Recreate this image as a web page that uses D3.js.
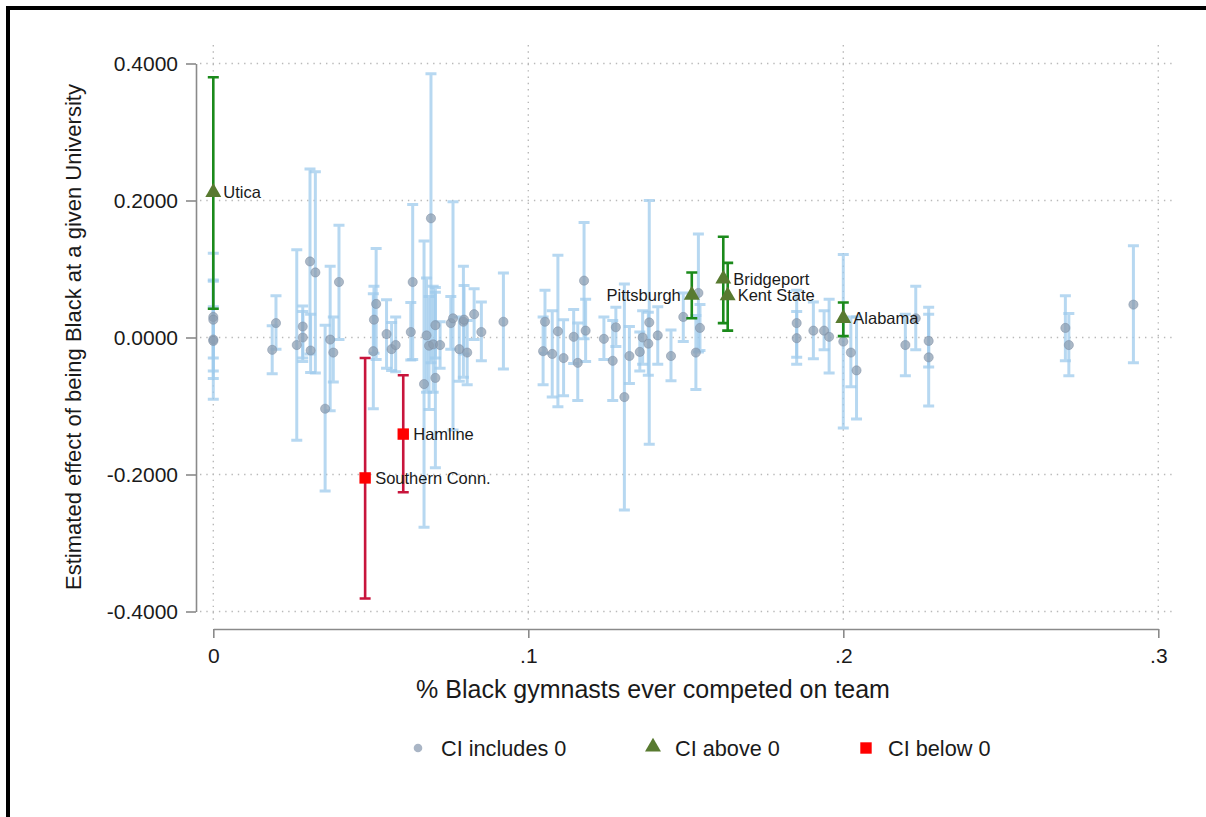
<!DOCTYPE html>
<html>
<head>
<meta charset="utf-8">
<script src="https://cdn.jsdelivr.net/npm/d3@7"></script>
<style>
  html, body { margin: 0; padding: 0; background: #fff; }
  svg { display: block; font-family: "Liberation Sans", Arial, sans-serif; }
</style>
</head>
<body>
<svg id="chart" width="1206" height="817"></svg>
<script>
// Share of Black gymnasts on the team (x) and estimated effect with 95% CI
const share = [0, 0, 0, 0, 0,
  0.0187, 0.0199, 0.0265, 0.0284, 0.0284, 0.0307, 0.0324, 0.0309, 0.0355, 0.0371, 0.0381, 0.0399,
  0.0482, 0.0603,
  0.0508, 0.0517, 0.0510, 0.0550, 0.0566, 0.0579, 0.0627, 0.0633, 0.0669, 0.0677, 0.0685, 0.0691,
  0.0698, 0.0705, 0.0705, 0.0720, 0.0754, 0.0761, 0.0781, 0.0794, 0.0796, 0.0806, 0.0828, 0.0851, 0.0921,
  0.1047, 0.1053, 0.1076, 0.1094, 0.1112, 0.1144, 0.1157, 0.1177, 0.1182, 0.1240, 0.1268, 0.1278,
  0.1305, 0.1321, 0.1354, 0.1363, 0.1381, 0.1384, 0.1411, 0.1453, 0.1492, 0.1519, 0.1540, 0.1532,
  0.1545, 0.1619, 0.1633,
  0.1852, 0.1852, 0.1905, 0.1939, 0.1955, 0.2000, 0.2000, 0.2024, 0.2042, 0.2197, 0.2230, 0.2271,
  0.2271, 0.2705, 0.2716, 0.2921];

const estimate = [0.030, 0.026, -0.003, -0.005, 0.212,
  -0.018, 0.021, -0.011, 0.016, 0.000, 0.111, 0.095, -0.019, -0.104, -0.003, -0.022, 0.081,
  -0.205, -0.141,
  -0.020, 0.049, 0.026, 0.005, -0.017, -0.011, 0.008, 0.081, -0.068, 0.003, -0.012, 0.174,
  -0.010, 0.018, -0.059, -0.011, 0.021, 0.028, -0.017, 0.023, 0.026, -0.022, 0.034, 0.008, 0.023,
  -0.020, 0.023, -0.024, 0.009, -0.030, 0.001, -0.037, 0.083, 0.010, -0.002, -0.034, 0.015,
  -0.087, -0.027, -0.021, 0.000, -0.009, 0.022, 0.003, -0.027, 0.030, 0.062, 0.065, -0.022,
  0.014, 0.0855, 0.061,
  0.021, -0.001, 0.010, 0.010, 0.001, 0.028, -0.006, -0.022, -0.048, -0.011, 0.028, -0.005,
  -0.029, 0.014, -0.011, 0.048];

const ciLow = [-0.060, -0.030, -0.090, -0.049, 0.042,
  -0.053, -0.017, -0.150, -0.035, -0.030, -0.024, -0.052, -0.051, -0.224, -0.107, -0.065, -0.003,
  -0.381, -0.226,
  -0.104, -0.032, -0.023, -0.045, -0.048, -0.050, -0.033, -0.032, -0.277, -0.080, -0.105, -0.037,
  -0.080, -0.030, -0.190, -0.045, -0.017, -0.135, -0.064, -0.058, -0.024, -0.069, -0.003, -0.034, -0.046,
  -0.069, -0.023, -0.087, -0.101, -0.085, -0.038, -0.092, -0.002, -0.035, -0.032, -0.092, -0.013,
  -0.252, -0.067, -0.049, -0.039, -0.055, -0.156, -0.039, -0.063, -0.006, 0.028, -0.021, -0.076,
  -0.019, 0.021, 0.010,
  -0.029, -0.039, -0.031, -0.018, -0.052, 0.002, -0.132, -0.072, -0.119, -0.056, -0.018, -0.043,
  -0.100, -0.034, -0.056, -0.037];

const ciHigh = [0.123, 0.084, 0.082, 0.045, 0.380,
  0.017, 0.061, 0.128, 0.046, 0.038, 0.246, 0.242, 0.034, 0.018, 0.104, 0.030, 0.164,
  -0.030, -0.055,
  0.064, 0.130, 0.075, 0.055, 0.022, 0.030, 0.051, 0.194, 0.141, 0.087, 0.060, 0.385,
  0.075, 0.066, 0.073, 0.023, 0.060, 0.198, 0.030, 0.104, 0.076, 0.025, 0.071, 0.052, 0.094,
  0.030, 0.069, 0.039, 0.120, 0.026, 0.041, 0.021, 0.168, 0.056, 0.030, 0.025, 0.044,
  0.078, 0.016, 0.008, 0.039, 0.037, 0.200, 0.045, 0.011, 0.065, 0.095, 0.151, 0.032,
  0.048, 0.147, 0.109,
  0.069, 0.038, 0.052, 0.039, 0.056, 0.051, 0.121, 0.030, 0.030, 0.034, 0.075, 0.034,
  0.044, 0.061, 0.035, 0.134];

// Universities whose interval excludes zero carry a name
const schoolName = ["", "", "", "", "Utica",
  "", "", "", "", "", "", "", "", "", "", "", "",
  "Southern Conn.", "Hamline",
  "", "", "", "", "", "", "", "", "", "", "", "",
  "", "", "", "", "", "", "", "", "", "", "", "", "",
  "", "", "", "", "", "", "", "", "", "", "", "",
  "", "", "", "", "", "", "", "", "", "Pittsburgh", "", "",
  "", "Bridgeport", "Kent State",
  "", "", "", "", "", "Alabama", "", "", "", "", "", "",
  "", "", "", ""];

const yTicks = [-0.4, -0.2, 0, 0.2, 0.4];
const xTicks = [0, 0.1, 0.2, 0.3];
const xTickLabels = ["0", ".1", ".2", ".3"];
const legendLabels = ["CI includes 0", "CI above 0", "CI below 0"];

const rows = share.map((x, i) => ({
  x, est: estimate[i], lo: ciLow[i], hi: ciHigh[i], name: schoolName[i],
  group: ciLow[i] > 0 ? "above" : (ciHigh[i] < 0 ? "below" : "includes")
}));

const svg = d3.select("#chart");

// page frame (top and left rules)
svg.append("rect").attr("x", 6).attr("y", 6).attr("width", 1200).attr("height", 4).attr("fill", "#000");
svg.append("rect").attr("x", 6).attr("y", 6).attr("width", 4).attr("height", 811).attr("fill", "#000");

const x = d3.scaleLinear().domain([0, 0.3]).range([213.3, 1158.3]);
const y = d3.scaleLinear().domain([-0.4, 0.4]).range([611.5, 63.5]);
const plot = { left: 200, right: 1172, top: 45, bottom: 622 };

// dotted grid
const grid = svg.append("g").attr("stroke", "#b9b9b9").attr("stroke-width", 1.4)
  .attr("stroke-dasharray", "1.4,4.9").attr("fill", "none");
grid.selectAll("line.h").data(yTicks).join("line").attr("class", "h")
  .attr("x1", plot.left).attr("x2", plot.right)
  .attr("y1", d => y(d)).attr("y2", d => y(d));
grid.selectAll("line.v").data(xTicks).join("line").attr("class", "v")
  .attr("x1", d => x(d)).attr("x2", d => x(d))
  .attr("y1", plot.top).attr("y2", plot.bottom);

// axes
const fmt = d3.formatLocale({ decimal: ".", thousands: ",", grouping: [3], currency: ["", ""], minus: "-" }).format(".4f");
const yAxis = svg.append("g").attr("transform", "translate(196,0)")
  .call(d3.axisLeft(y).tickValues(yTicks).tickFormat(fmt).tickSize(10).tickSizeOuter(0).tickPadding(8));
const xAxis = svg.append("g").attr("transform", "translate(0,629)")
  .call(d3.axisBottom(x).tickValues(xTicks).tickFormat((d, i) => xTickLabels[i]).tickSize(9).tickSizeOuter(0).tickPadding(10));
[yAxis, xAxis].forEach(g => {
  g.select(".domain").attr("stroke", "#8a8a8a").attr("stroke-width", 1.6);
  g.selectAll(".tick line").attr("stroke", "#8a8a8a").attr("stroke-width", 1.6);
  g.selectAll(".tick text").attr("fill", "#1a1a1a").attr("font-size", 21)
    .attr("font-family", "'Liberation Sans', Arial, sans-serif");
});

svg.append("text").attr("x", 653).attr("y", 698).attr("text-anchor", "middle")
  .attr("font-size", 25).attr("fill", "#1a1a1a")
  .text("% Black gymnasts ever competed on team");
svg.append("text").attr("transform", "translate(81,337) rotate(-90)").attr("text-anchor", "middle")
  .attr("font-size", 22).attr("fill", "#1a1a1a")
  .text("Estimated effect of being Black at a given University");

// confidence intervals with caps
const capW = 5.5;
const ciStyle = {
  includes: { stroke: "#9fcbec", width: 3, opacity: 0.75 },
  above: { stroke: "#1b8a1b", width: 2.6, opacity: 1 },
  below: { stroke: "#c8153c", width: 2.6, opacity: 1 }
};
function drawCI(sel) {
  sel.each(function (d) {
    const s = ciStyle[d.group];
    const g = d3.select(this).attr("stroke", s.stroke).attr("stroke-width", s.width)
      .attr("stroke-opacity", s.opacity).attr("fill", "none");
    const cx = x(d.x);
    g.append("path").attr("d",
      `M${cx},${y(d.hi)}V${y(d.lo)}M${cx - capW},${y(d.hi)}H${cx + capW}M${cx - capW},${y(d.lo)}H${cx + capW}`);
  });
}
const grey = rows.filter(d => d.group === "includes");
const sig = rows.filter(d => d.group !== "includes");

svg.append("g").selectAll("g").data(grey).join("g").call(drawCI);
svg.append("g").selectAll("circle").data(grey).join("circle")
  .attr("cx", d => x(d.x)).attr("cy", d => y(d.est)).attr("r", 4.6)
  .attr("fill", "#8b9cb0").attr("fill-opacity", 0.72)
  .attr("stroke", "#7a8ca2").attr("stroke-opacity", 0.6).attr("stroke-width", 0.8);

svg.append("g").selectAll("g").data(sig).join("g").call(drawCI);

const tri = d3.symbol().type(d3.symbolTriangle).size(110);
const sq = d3.symbol().type(d3.symbolSquare).size(130);
const marks = svg.append("g");
marks.selectAll("path.above").data(sig.filter(d => d.group === "above")).join("path")
  .attr("class", "above").attr("d", tri)
  .attr("transform", d => `translate(${x(d.x)},${y(d.est)})`).attr("fill", "#587a30");
marks.selectAll("path.below").data(sig.filter(d => d.group === "below")).join("path")
  .attr("class", "below").attr("d", sq)
  .attr("transform", d => `translate(${x(d.x)},${y(d.est)})`).attr("fill", "#ff0000");

// school labels: Pittsburgh sits to the left of its marker
svg.append("g").selectAll("text").data(rows.filter(d => d.name)).join("text")
  .attr("x", d => d.name === "Pittsburgh" ? x(d.x) - 11 : x(d.x) + 10)
  .attr("y", d => y(d.est)).attr("dy", "0.35em")
  .attr("text-anchor", d => d.name === "Pittsburgh" ? "end" : "start")
  .attr("font-size", 16.5).attr("fill", "#1a1a1a")
  .text(d => d.name);

// legend
const leg = svg.append("g");
const legX = [418, 653, 866];
leg.append("circle").attr("cx", legX[0]).attr("cy", 748).attr("r", 4.3).attr("fill", "#a9b5c5");
leg.append("path").attr("d", tri).attr("transform", `translate(${legX[1]},747)`).attr("fill", "#587a30");
leg.append("path").attr("d", sq).attr("transform", `translate(${legX[2]},748)`).attr("fill", "#ff0000");
leg.selectAll("text").data(legendLabels).join("text")
  .attr("x", (d, i) => legX[i] + [23, 22, 22][i]).attr("y", 748).attr("dy", "0.35em")
  .attr("font-size", 21.7).attr("fill", "#1a1a1a").text(d => d);
</script>
</body>
</html>
